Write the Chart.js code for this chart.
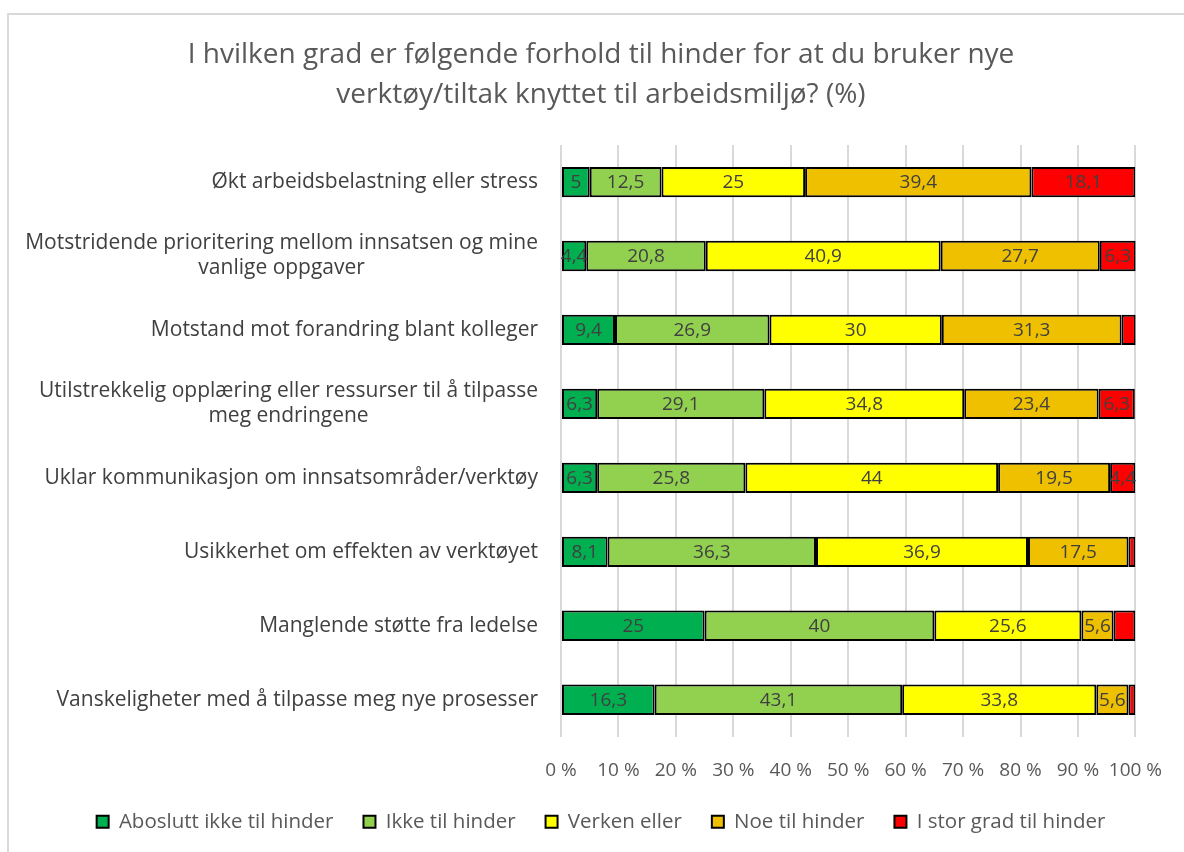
<!DOCTYPE html>
<html>
<head>
<meta charset="utf-8">
<script src="https://cdn.jsdelivr.net/npm/chart.js@4"></script>
<style>
  html, body { margin: 0; padding: 0; background: #fff; }
  #wrap { position: relative; width: 1184px; height: 852px; overflow: hidden; }
  #frame { position: absolute; left: 7px; top: 13px; width: 1200px; height: 900px; border: 2px solid #d9d9d9; box-sizing: border-box; }
  #holder { position: absolute; left: 0; top: 0; width: 1184px; height: 852px; }
</style>
</head>
<body>
<div id="wrap">
  <div id="frame"></div>
  <div id="holder"><canvas id="barchart"></canvas></div>
</div>
<script>
// categories (top to bottom)
const categories = [
  ['Økt arbeidsbelastning eller stress'],
  ['Motstridende prioritering mellom innsatsen og mine', 'vanlige oppgaver'],
  ['Motstand mot forandring blant kolleger'],
  ['Utilstrekkelig opplæring eller ressurser til å tilpasse', 'meg endringene'],
  ['Uklar kommunikasjon om innsatsområder/verktøy'],
  ['Usikkerhet om effekten av verktøyet'],
  ['Manglende støtte fra ledelse'],
  ['Vanskeligheter med å tilpasse meg nye prosesser']
];

// series values (%)
const absoluttIkke = [5, 4.4, 9.4, 6.3, 6.3, 8.1, 25, 16.3];
const ikkeHinder = [12.5, 20.8, 26.9, 29.1, 25.8, 36.3, 40, 43.1];
const verkenEller = [25, 40.9, 30, 34.8, 44, 36.9, 25.6, 33.8];
const noeHinder = [39.4, 27.7, 31.3, 23.4, 19.5, 17.5, 5.6, 5.6];
const storGrad = [18.1, 6.3, 2.5, 6.3, 4.4, 1.2, 3.8, 1.2];

const seriesNames = ['Aboslutt ikke til hinder', 'Ikke til hinder', 'Verken eller', 'Noe til hinder', 'I stor grad til hinder'];
const seriesColors = ['#00B050', '#92D050', '#FFFF00', '#EEC000', '#FF0000'];

// x tick labels
const xTicks = ['0 %', '10 %', '20 %', '30 %', '40 %', '50 %', '60 %', '70 %', '80 %', '90 %', '100 %'];

const FONT = "'Open Sans', sans-serif";

// value labels inside the bars, with decimal comma
const barLabels = {
  id: 'barLabels',
  afterDatasetsDraw(chart) {
    const ctx = chart.ctx;
    ctx.save();
    ctx.font = '19px ' + FONT;
    ctx.fillStyle = '#404040';
    ctx.textAlign = 'center';
    ctx.textBaseline = 'middle';
    chart.data.datasets.forEach((ds, di) => {
      const meta = chart.getDatasetMeta(di);
      meta.data.forEach((bar, i) => {
        const v = ds.data[i];
        if (v < 4) return;
        ctx.fillText(String(v).replace('.', ','), (bar.x + bar.base) / 2, bar.y + 1);
      });
    });
    ctx.restore();
  }
};

// category labels: single lines right aligned, wrapped lines centred as a block
const categoryLabels = {
  id: 'categoryLabels',
  afterDraw(chart) {
    const ctx = chart.ctx;
    const y = chart.scales.y;
    const right = chart.chartArea.left - 23;
    const lh = 25;
    ctx.save();
    ctx.font = '21px ' + FONT;
    ctx.fillStyle = '#404040';
    ctx.textBaseline = 'middle';
    categories.forEach((lines, i) => {
      const cy = y.getPixelForValue(i);
      const widest = Math.max(...lines.map(l => ctx.measureText(l).width));
      const top = cy - (lines.length - 1) * lh / 2;
      lines.forEach((line, j) => {
        if (lines.length === 1) {
          ctx.textAlign = 'right';
          ctx.fillText(line, right, top + j * lh);
        } else {
          ctx.textAlign = 'center';
          ctx.fillText(line, right - widest / 2, top + j * lh);
        }
      });
    });
    ctx.restore();
  }
};

const seriesData = [absoluttIkke, ikkeHinder, verkenEller, noeHinder, storGrad];

new Chart(document.getElementById('barchart'), {
  type: 'bar',
  data: {
    labels: categories.map(c => c.join(' ')),
    datasets: seriesData.map((d, i) => ({
      label: seriesNames[i],
      data: d,
      backgroundColor: seriesColors[i],
      borderColor: '#000000',
      borderWidth: 2,
      borderSkipped: false,
      barPercentage: 0.41,
      categoryPercentage: 1
    }))
  },
  options: {
    indexAxis: 'y',
    responsive: true,
    maintainAspectRatio: false,
    animation: false,
    layout: { padding: { left: 64, right: 46, top: 0, bottom: 10 } },
    scales: {
      x: {
        stacked: true,
        min: 0,
        max: 100,
        afterFit: (scale) => { scale.height -= 22; },
        ticks: {
          stepSize: 10,
          padding: 22,
          maxRotation: 0,
          minRotation: 0,
          autoSkip: false,
          color: '#595959',
          font: { family: FONT, size: 19 },
          callback: (v, i) => xTicks[i]
        },
        grid: { color: '#d9d9d9', lineWidth: 2, drawTicks: false },
        border: { display: false }
      },
      y: {
        stacked: true,
        afterFit: (scale) => { scale.width = 497; },
        ticks: { display: false },
        grid: { display: false },
        border: { display: false }
      }
    },
    plugins: {
      title: {
        display: true,
        text: ['I hvilken grad er følgende forhold til hinder for at du bruker nye', 'verktøy/tiltak knyttet til arbeidsmiljø? (%)'],
        color: '#595959',
        font: { family: FONT, size: 28, weight: 'normal', lineHeight: 1.43 },
        padding: { top: 35, bottom: 30 }
      },
      legend: {
        position: 'bottom',
        labels: {
          color: '#595959',
          font: { family: FONT, size: 20.5 },
          boxWidth: 12,
          boxHeight: 12,
          padding: 30
        }
      },
      tooltip: { enabled: false }
    }
  },
  plugins: [barLabels, categoryLabels]
});
</script>
</body>
</html>
